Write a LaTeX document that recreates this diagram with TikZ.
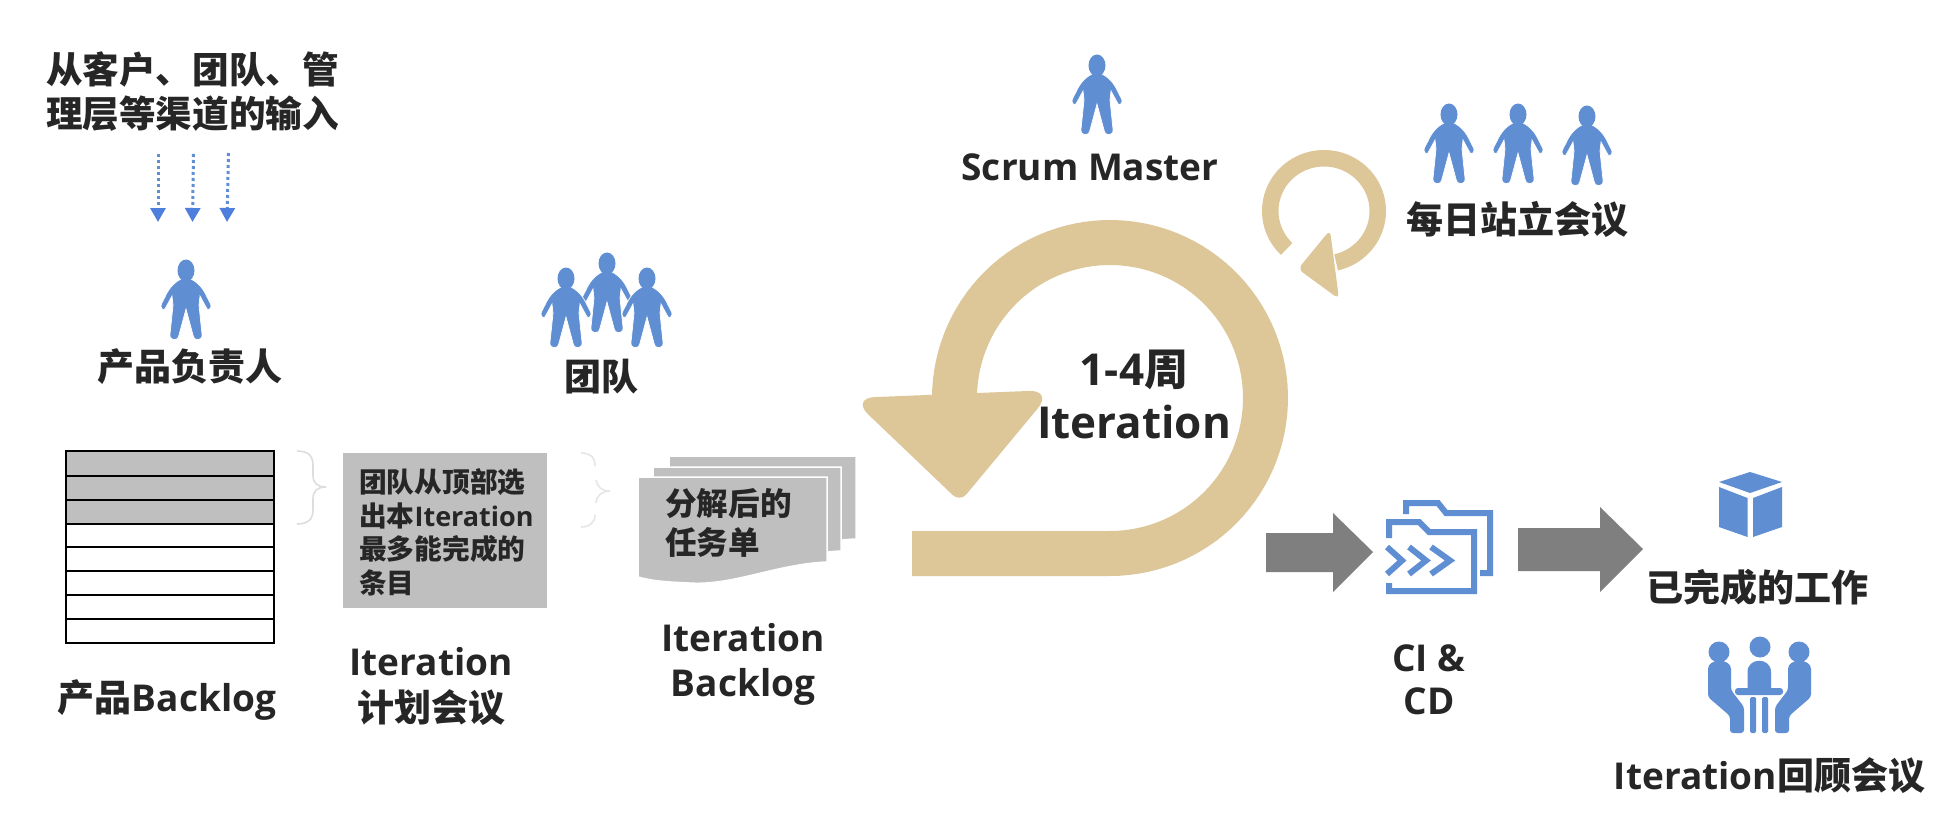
\documentclass[tikz,border=0pt]{standalone}
\usepackage{fontspec}
\usetikzlibrary{arrows.meta}
\setmainfont{Open Sans}
\newfontfamily\cjkfam{Noto Sans CJK SC}
\newcommand{\zh}[1]{{\cjkfam\bfseries #1}}
\newcommand{\fs}[2]{\fontsize{#1}{#2}\selectfont\bfseries}
\definecolor{ink}{HTML}{262626}
\definecolor{iconblue}{HTML}{5F8ED3}
\definecolor{dotblue}{HTML}{4F7FDC}
\definecolor{sand}{HTML}{DDC799}
\definecolor{boxgray}{HTML}{BFBFBF}
\definecolor{arrowgray}{HTML}{7F7F7F}
\definecolor{bracegray}{HTML}{DDDDDD}
\tikzset{
  lbl/.style={text=ink,inner sep=0pt,outer sep=0pt,align=center},
  rowbox/.style={draw=black,line width=2.4pt},
  inputarrow/.style={draw=iconblue,line width=3pt,dash pattern=on 3pt off 3pt,-{Triangle[length=14pt,width=15pt,color=dotblue]}},
  bracelike/.style={draw=bracegray,line width=1.6pt},
  docsheet/.style={fill=boxgray,draw=white,line width=1.5pt},
  folderline/.style={draw=iconblue,line width=6pt,line join=miter},
  pics/personicon/.style={code={
    \fill[iconblue,draw=white,line width=.7pt]
      (-5,19) .. controls (-13,23) and (-18,30) .. (-21,37)
      .. controls (-23,41) and (-25,44) .. (-25,46)
      .. controls (-25,50) and (-21,51) .. (-20,47)
      -- (-14,36) -- (-13,45)
      .. controls (-14,55) and (-15,65) .. (-16,74)
      .. controls (-17,81) and (-8,82) .. (-7,75)
      -- (0,49) -- (7,75)
      .. controls (8,82) and (17,81) .. (16,74)
      .. controls (15,65) and (14,55) .. (13,45)
      -- (14,36) -- (20,47)
      .. controls (21,51) and (25,50) .. (25,46)
      .. controls (25,44) and (23,41) .. (21,37)
      .. controls (18,30) and (13,23) .. (5,19) -- cycle;
    \fill[iconblue] (0,10.5) ellipse [x radius=8.5pt,y radius=11pt];
  }}
}
\newcommand{\docpage}[4]{% x y-top width right-height
  \path[docsheet] (#1,#2) -- ({#1+#3},#2) -- ({#1+#3},{#2+#4})
    .. controls ({#1+#3-50},{#2+#4+2}) and ({#1+#3-95},{#2+#4+24}) .. ({#1+#3-138},{#2+#4+21})
    .. controls ({#1+#3-160},{#2+#4+20}) and ({#1+#3-175},{#2+#4+19}) .. (#1,{#2+#4+15}) -- cycle;
}
\begin{document}
\begin{tikzpicture}[x=1pt,y=-1pt]
\useasboundingbox (0,0) rectangle (1938,824);
\fill[white] (0,0) rectangle (1938,824);

% top-left input
\node[lbl,font=\fs{36.6}{44.5}] (input) at (192.5,91.5) {\zh{从客户、团队、管}\\\zh{理层等渠道的输入}};
\coordinate (a1s) at (158,154); \coordinate (a1e) at (158,222);
\coordinate (a2s) at (193.5,154); \coordinate (a2e) at (192.5,222);
\coordinate (a3s) at (228.5,153); \coordinate (a3e) at (227,222);
\draw[inputarrow] (a1s) -- (a1e);
\draw[inputarrow] (a2s) -- (a2e);
\draw[inputarrow] (a3s) -- (a3e);

% people
\pic at (186,260) {personicon};
\node[lbl,font=\fs{37}{44}] (po) at (190,367) {\zh{产品负责人}};
\pic at (607,253) {personicon};
\pic at (566,268) {personicon};
\pic at (647,268) {personicon};
\node[lbl,font=\fs{37}{44}] (team) at (601,377) {\zh{团队}};
\pic at (1097,55) {personicon};
\node[lbl,font=\fs{37}{44}] (sm) at (1090,167) {Scrum Master};
\pic at (1449,104) {personicon};
\pic at (1518,104) {personicon};
\pic at (1587,106) {personicon};
\node[lbl,font=\fs{37}{44}] (daily) at (1517,219) {\zh{每日站立会议}};

% backlog table
\foreach \a/\b in {451/476,476/500,500/524}{\fill[boxgray] (66,\a) rectangle (274,\b);}
\foreach \a/\b in {451/476,476/500,500/524,524/547,547/571,571/595,595/619,619/643}{\draw[rowbox] (66,\a) rectangle (274,\b);}
\node[lbl,font=\fs{37}{44}] (pb) at (167,700) {\zh{产品}Backlog};

% brace 1
\draw[bracelike] (297,451) .. controls (307,451) and (313,455) .. (313,465) -- (313,475)
  .. controls (313,483) and (317,487) .. (326,487)
  .. controls (317,487) and (313,491) .. (313,499) -- (313,510)
  .. controls (313,520) and (307,524) .. (297,524);

% planning box
\node[fill=boxgray,minimum width=204pt,minimum height=155pt,inner sep=0pt] (plan) at (445,530.5) {};
\node[text=ink,inner sep=0pt,align=left,anchor=west,font=\fs{27.7}{33.6}] (plantext) at (359,532.5)
  {\zh{团队从顶部选}\\\zh{出本}{\fontsize{27}{33.6}\selectfont\bfseries Iteration}\\\zh{最多能完成的}\\\zh{条目}};
\node[lbl,font=\fs{37}{46}] (planlabel) at (431,686) {Iteration\\\zh{计划会议}};

% brace 2 (broken)
\draw[bracelike,draw=bracegray!75] (581,453) .. controls (589,453) and (595,456) .. (595,466);
\draw[bracelike,draw=bracegray!75] (596,480) .. controls (597,487) and (602,491) .. (610,491)
   .. controls (602,491) and (597,495) .. (596,503);
\draw[bracelike,draw=bracegray!75] (595,515) .. controls (595,523) and (589,527) .. (581,527);

% documents
\docpage{669}{456}{187}{83}
\docpage{653}{467}{188}{84}
\docpage{638}{477}{189}{85}
\node[text=ink,inner sep=0pt,align=left,anchor=west,font=\fs{31.6}{39}] (doctext) at (665,522.5) {\zh{分解后的}\\\zh{任务单}};
\node[lbl,font=\fs{37}{45}] (iblabel) at (743,664.5) {Iteration\\Backlog};

% big loop arrow
\fill[sand] (912,531) -- (1110,531)
  -- plot[domain=90:-180,samples=90] ({1110+133*cos(\x)},{398+133*sin(\x)})
  -- plot[domain=-180:90,samples=90] ({1110+178*cos(\x)},{398+178*sin(\x)})
  -- (912,576) -- cycle;
\fill[sand] (952,394) [rounded corners=24pt] -- (1053,390) [rounded corners=10pt] -- (960,502) [rounded corners=24pt] -- (851,398) -- cycle;
\node[lbl,font=\fs{44}{53}] (cycle) at (1134,394.5) {1-4\zh{周}\\Iteration};

% small loop arrow
\fill[sand] plot[domain=134:437,samples=90] ({1324+62*cos(\x)},{211+61*sin(\x)})
  -- plot[domain=437:134,samples=90] ({1324+45.5*cos(\x)},{211+44.5*sin(\x)}) -- cycle;
\fill[sand,rounded corners=6pt] (1314,249.5) -- (1330,230) -- (1339,299) -- (1298,269) -- cycle;

% grey block arrows
\fill[arrowgray] (1266,533) -- (1333,533) -- (1333,513) -- (1373,552) -- (1333,592) -- (1333,572) -- (1266,572) -- cycle;
\fill[arrowgray] (1518,528) -- (1600,528) -- (1600,507) -- (1643,549) -- (1600,592) -- (1600,571) -- (1518,571) -- cycle;

% CI/CD folder icon
\draw[folderline] (1406,514) -- (1406,503) -- (1438,503) -- (1446,513) -- (1490,513) -- (1490,573) -- (1480,573);
\draw[folderline] (1389,538) -- (1389,522) -- (1419,522) -- (1429,532) -- (1474,532) -- (1474,591) -- (1389,591) -- (1389,583);
\draw[folderline] (1387,547) -- (1402,560.5) -- (1387,574);
\draw[folderline] (1409,547) -- (1426,560.5) -- (1409,574);
\draw[folderline] (1431,547) -- (1450,560.5) -- (1431,574);
\node[lbl,font=\fs{37}{43}] (ci) at (1429,679.5) {CI \&\\CD};

% cube icon
\fill[iconblue] (1750,472) -- (1782,482) -- (1750,493) -- (1719,482) -- cycle;
\fill[iconblue] (1719,487) -- (1747.5,498) -- (1747.5,537) -- (1719,527) -- cycle;
\fill[iconblue] (1782,487) -- (1753,498) -- (1753,537) -- (1782,527) -- cycle;
\node[lbl,font=\fs{37}{44}] (done) at (1757,587) {\zh{已完成的工作}};

% meeting icon
\fill[iconblue] (1719,652) circle (10.5pt);
\fill[iconblue] (1760,647) circle (10.5pt);
\fill[iconblue] (1799,652) circle (10.5pt);
\fill[iconblue] (1747.5,688) -- (1747.5,672) .. controls (1747.5,657) and (1771,657) .. (1771,672) -- (1771,688) -- cycle;
\fill[iconblue,rounded corners=3pt] (1735,688) rectangle (1783,695);
\fill[iconblue,rounded corners=1.5pt] (1750,697) rectangle (1756,733);
\fill[iconblue,rounded corners=1.5pt] (1762,697) rectangle (1768,733);
\fill[iconblue,rounded corners=3pt] (1708,672) .. controls (1708,658) and (1731,658) .. (1731,672)
   -- (1731,690) -- (1744,707) -- (1744,733) -- (1730,733) -- (1730,716) -- (1708,697) -- cycle;
\fill[iconblue,rounded corners=3pt] (1811,672) .. controls (1811,658) and (1788,658) .. (1788,672)
   -- (1788,690) -- (1775,707) -- (1775,733) -- (1789,733) -- (1789,716) -- (1811,697) -- cycle;
\node[lbl,font=\fs{37}{44}] (retro) at (1769.5,776) {Iteration\zh{回顾会议}};
\end{tikzpicture}
\end{document}
